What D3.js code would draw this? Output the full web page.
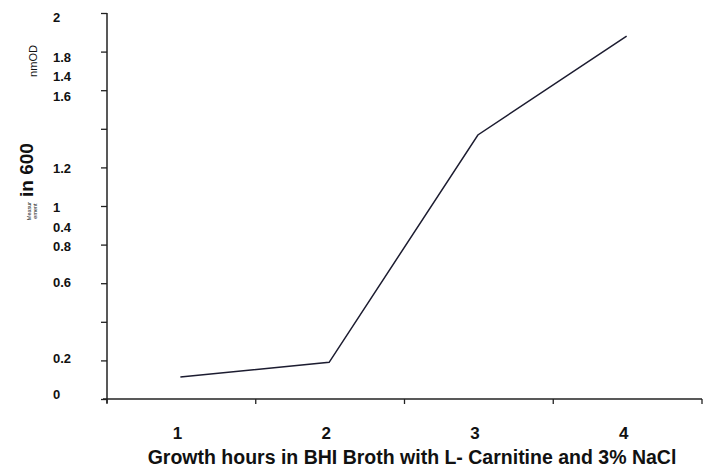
<!DOCTYPE html>
<html>
<head>
<meta charset="utf-8">
<script src="https://cdn.jsdelivr.net/npm/d3@7"></script>
<style>
  body { margin: 0; background: #fff; }
  text { font-family: "Liberation Sans", Arial, sans-serif; fill: #111; }
</style>
</head>
<body>
<svg id="chart" width="708" height="474"></svg>
<script>
// growth hours (categories) and measured OD
var hours = ["1", "2", "3", "4"];
var odValues = [0.114, 0.19, 1.368, 1.88];

// y tick marks and the (oddly placed) labels from the original figure
var yTicks = [0, 0.2, 0.4, 0.6, 0.8, 1, 1.2, 1.4, 1.6, 1.8, 2];
var yLabels = ["2", "1.8", "1.4", "1.6", "1.2", "1", "0.4", "0.8", "0.6", "0.2", "0"];
var yLabelAt = [1.98, 1.77, 1.67, 1.57, 1.197, 0.995, 0.89, 0.79, 0.605, 0.21, 0.026];

var xTitle = "Growth hours in BHI Broth with L- Carnitine and 3% NaCl";

(function() {
  var svg = d3.select("svg#chart");
  var left = 107, right = 702, top = 13, bottom = 399;

  var x = d3.scaleBand().domain(hours).range([left, right]);
  var y = d3.scaleLinear().domain([0, 2]).range([bottom, top]);

  // y axis
  var yAxis = svg.append("g")
    .attr("transform", "translate(" + left + ",0)")
    .call(d3.axisLeft(y).tickValues(yTicks).tickSize(6).tickSizeOuter(0).tickFormat(""));
  yAxis.select(".domain").attr("stroke", "#222").attr("stroke-width", 1.5)
    .attr("d", "M0," + top + "V" + (bottom + 4));
  yAxis.selectAll(".tick line").attr("stroke", "#222").attr("stroke-width", 1.3);

  // x axis, ticks on band edges
  var xEdges = hours.map(function(h) { return x(h); }).concat([right]);
  var xAxis = svg.append("g")
    .attr("transform", "translate(0," + bottom + ")");
  xAxis.append("line")
    .attr("x1", left - 4).attr("x2", right)
    .attr("stroke", "#222").attr("stroke-width", 1.5);
  xAxis.selectAll(".xt")
    .data(xEdges)
    .enter().append("line")
    .attr("class", "xt")
    .attr("x1", function(d) { return d; }).attr("x2", function(d) { return d; })
    .attr("y1", 0).attr("y2", 5)
    .attr("stroke", "#222").attr("stroke-width", 1.3);

  // y tick labels
  svg.selectAll(".ylab")
    .data(yLabels)
    .enter().append("text")
    .attr("class", "ylab")
    .attr("x", 53)
    .attr("y", function(d, i) { return y(yLabelAt[i]); })
    .attr("dy", "0.36em")
    .attr("font-size", 13)
    .attr("font-weight", "bold")
    .text(function(d) { return d; });

  // x tick labels
  svg.selectAll(".xlab")
    .data(hours)
    .enter().append("text")
    .attr("class", "xlab")
    .attr("x", function(d) { return x(d) + x.bandwidth() / 2 - 4; })
    .attr("y", 439)
    .attr("text-anchor", "middle")
    .attr("font-size", 17)
    .attr("font-weight", "bold")
    .text(function(d) { return d; });

  svg.append("text")
    .attr("x", 412)
    .attr("y", 464)
    .attr("text-anchor", "middle")
    .attr("font-size", 19.5)
    .attr("font-weight", "bold")
    .text(xTitle);

  // y axis titles (rotated pieces)
  svg.append("text")
    .attr("transform", "translate(37,61) rotate(-90)")
    .attr("text-anchor", "middle")
    .attr("font-size", 11)
    .text("nmOD");
  svg.append("text")
    .attr("transform", "translate(33,170) rotate(-90)")
    .attr("text-anchor", "middle")
    .attr("font-size", 19)
    .attr("font-weight", "bold")
    .text("in 600");
  svg.append("text")
    .attr("transform", "translate(31,211) rotate(-90)")
    .attr("text-anchor", "middle")
    .attr("font-size", 5.5)
    .text("Measur");
  svg.append("text")
    .attr("transform", "translate(37,211) rotate(-90)")
    .attr("text-anchor", "middle")
    .attr("font-size", 5.5)
    .text("ement");

  // growth line
  var line = d3.line()
    .x(function(d, i) { return x(hours[i]) + x.bandwidth() / 2 - 1; })
    .y(function(d) { return y(d); });

  svg.append("path")
    .datum(odValues)
    .attr("fill", "none")
    .attr("stroke", "#1c1c30")
    .attr("stroke-width", 1.5)
    .attr("d", line);
})();
</script>
</body>
</html>
